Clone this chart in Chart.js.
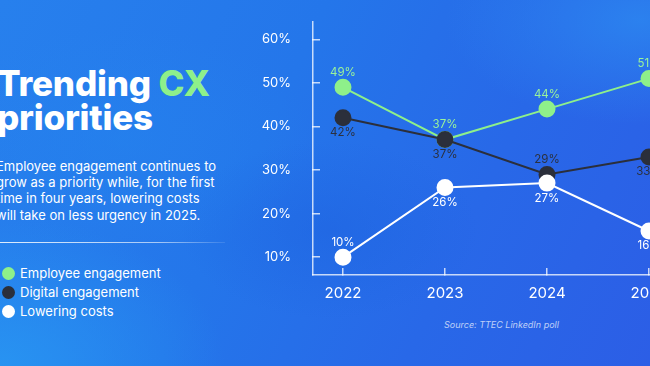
<!DOCTYPE html>
<html>
<head>
<meta charset="utf-8">
<script src="https://cdn.jsdelivr.net/npm/chart.js@4.4.1/dist/chart.umd.min.js"></script>
<style>
  html, body { margin:0; padding:0; width:650px; height:366px; overflow:hidden; }
  body {
    position:relative;
    font-family: Inter, "Noto Sans", sans-serif;
    background:
      radial-gradient(ellipse 300px 200px at 0px 366px, rgba(40,150,242,0.9), rgba(40,150,242,0) 75%),
      radial-gradient(ellipse 260px 140px at 640px 20px, rgba(44,136,240,0.8), rgba(44,136,240,0) 75%),
      radial-gradient(ellipse 200px 120px at 330px 230px, rgba(28,96,222,0.45), rgba(28,96,222,0) 75%),
      radial-gradient(ellipse 260px 150px at 120px 140px, rgba(36,132,238,0.5), rgba(36,132,238,0) 75%),
      linear-gradient(115deg, #2780ed 0%, #2476ea 40%, #2868e8 70%, #2c5ee6 100%);
  }
  #title { position:absolute; left:-3px; top:66px; color:#fff; font-weight:800; font-size:35px; line-height:34px; letter-spacing:-0.2px; }
  #title .cx { color:#8ef08a; }
  #desc { position:absolute; left:-4px; top:158px; width:260px; color:#fff; font-size:13px; line-height:16.2px; white-space:nowrap; }
  #divider { position:absolute; left:0; top:242px; width:225px; height:1px;
    background:linear-gradient(90deg, rgba(255,255,255,0.85), rgba(255,255,255,0.6) 70%, rgba(255,255,255,0.1)); }
  .leg { position:absolute; left:2px; color:#fff; font-size:13px; height:16px; line-height:16px; white-space:nowrap; }
  .leg span.dot { position:absolute; left:0; top:1.5px; width:13px; height:13px; border-radius:50%; }
  .leg span.t { position:absolute; left:18px; top:0; }
  #source { position:absolute; left:444px; top:319px; color:rgba(255,255,255,0.7); font-size:9px; font-style:italic; }
  #wrap { position:absolute; left:250px; top:0; width:520px; height:366px; }
</style>
</head>
<body>
<div id="title">Trending <span class="cx">CX</span><br>priorities</div>
<div id="desc">Employee engagement continues to<br>grow as a priority while, for the first<br>time in four years, lowering costs<br>will take on less urgency in 2025.</div>
<div id="divider"></div>
<div id="legend"></div>
<div id="source">Source: TTEC LinkedIn poll</div>
<div id="wrap"><canvas id="c" width="520" height="366"></canvas></div>
<script>
// ---- data ----
const years = [2022, 2023, 2024, 2025];
const seriesNames = ["Employee engagement", "Digital engagement", "Lowering costs"];
const employeeEngagement = [49, 37, 44, 51];
const digitalEngagement = [42, 37, 29, 33];
const loweringCosts = [10, 26, 27, 16];
const yTicks = [10, 20, 30, 40, 50, 60];

const colors = ["#8ef08a", "#2b2f3b", "#ffffff"];
const labelColors = ["#9af39a", "#2b3140", "#ffffff"];
// label side for each point: -1 above, +1 below
const labelSides = [[-1, -1, -1, -1], [1, 1, -1, 1], [-1, 1, 1, 1]];

// legend (HTML text)
const legendTops = [265, 284, 303];
const legendEl = document.getElementById('legend');
seriesNames.forEach((n, i) => {
  const d = document.createElement('div');
  d.className = 'leg';
  d.style.top = legendTops[i] + 'px';
  d.innerHTML = '<span class="dot" style="background:' + colors[i] + '"></span><span class="t">' + n + '</span>';
  legendEl.appendChild(d);
});

const seriesValues = [employeeEngagement, digitalEngagement, loweringCosts];
const datasets = seriesValues.map((vals, i) => ({
  label: seriesNames[i],
  data: vals.map((v, j) => ({ x: years[j], y: v })),
  borderColor: colors[i],
  backgroundColor: colors[i],
  pointBackgroundColor: colors[i],
  pointBorderColor: colors[i],
  pointRadius: 7.5,
  pointHoverRadius: 7.5,
  borderWidth: 2,
  tension: 0,
  order: 3 - i,
  labelSide: labelSides[i],
  labelColor: labelColors[i]
}));

const dataLabels = {
  id: 'dataLabels',
  afterDatasetsDraw(chart) {
    const ctx = chart.ctx;
    ctx.save();
    ctx.font = '11.5px Inter, "Noto Sans", sans-serif';
    ctx.textAlign = 'center';
    ctx.textBaseline = 'middle';
    chart.data.datasets.forEach((ds, di) => {
      const meta = chart.getDatasetMeta(di);
      meta.data.forEach((pt, j) => {
        const side = ds.labelSide[j];
        ctx.fillStyle = ds.labelColor;
        ctx.fillText(ds.data[j].y + '%', pt.x, pt.y + side * 15);
      });
    });
    ctx.restore();
  }
};

new Chart(document.getElementById('c'), {
  type: 'line',
  data: { datasets },
  plugins: [dataLabels],
  options: {
    responsive: false,
    animation: false,
    clip: false,
    layout: { autoPadding: false, padding: { top: 22, left: 5, right: 0, bottom: 0 } },
    plugins: { legend: { display: false }, tooltip: { enabled: false } },
    scales: {
      x: {
        type: 'linear',
        min: 2021.706,
        max: 2026.186,
        afterBuildTicks: s => { s.ticks = years.map(v => ({ value: v })); },
        afterFit: s => { s.height = 91; s.paddingLeft = 0; s.paddingRight = 0; },
        border: { display: true, color: 'rgba(255,255,255,0.75)', width: 1.5 },
        grid: { drawOnChartArea: false, drawTicks: true, tickLength: -7, tickColor: 'rgba(255,255,255,0.75)', lineWidth: 1.5 },
        ticks: { color: '#ffffff', padding: 16, font: { size: 15, family: 'Inter, "Noto Sans", sans-serif' },
                 callback: v => String(v), maxRotation: 0 }
      },
      y: {
        min: 5.9,
        max: 64,
        afterBuildTicks: s => { s.ticks = yTicks.map(v => ({ value: v })); },
        afterFit: s => { s.width = 58; s.paddingTop = 0; s.paddingBottom = 0; },
        border: { display: true, color: 'rgba(255,255,255,0.75)', width: 1.5 },
        grid: { drawOnChartArea: false, drawTicks: true, tickLength: -7, tickColor: 'rgba(255,255,255,0.75)', lineWidth: 1.5 },
        ticks: { color: '#ffffff', padding: 29, font: { size: 13, family: 'Inter, "Noto Sans", sans-serif' },
                 callback: v => v + '%' }
      }
    }
  }
});
</script>
</body>
</html>
